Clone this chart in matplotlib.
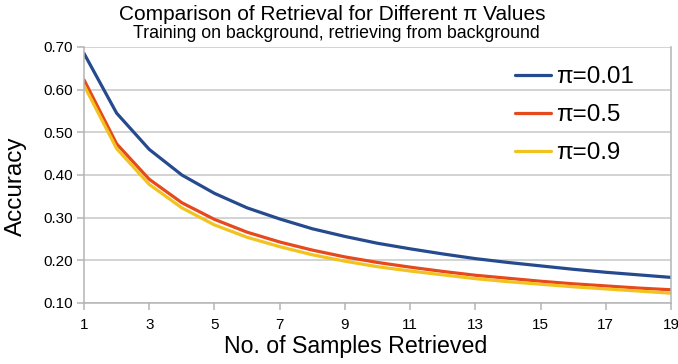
import matplotlib
matplotlib.use("Agg")
import matplotlib.pyplot as plt

plt.rcParams["font.family"] = ["Liberation Sans", "DejaVu Sans"]

samples = list(range(1, 20))
acc_001 = [0.685, 0.545, 0.460, 0.400, 0.357, 0.323, 0.297, 0.274, 0.256, 0.240,
           0.227, 0.215, 0.204, 0.195, 0.187, 0.179, 0.172, 0.166, 0.160]
acc_05 = [0.623, 0.473, 0.390, 0.335, 0.296, 0.266, 0.243, 0.224, 0.208, 0.195,
          0.184, 0.174, 0.165, 0.158, 0.151, 0.145, 0.140, 0.135, 0.131]
acc_09 = [0.610, 0.462, 0.378, 0.323, 0.283, 0.254, 0.232, 0.213, 0.198, 0.185,
          0.175, 0.166, 0.157, 0.150, 0.144, 0.138, 0.133, 0.128, 0.123]
labels = ["π=0.01", "π=0.5", "π=0.9"]
colors = ["#264a8e", "#e64a1c", "#f2c21e"]

fig = plt.figure(figsize=(6.78, 3.64), dpi=100)
ax = fig.add_axes([0.1239, 0.1676, 0.8658, 0.7033])

for ys, lab, col in zip([acc_001, acc_05, acc_09], labels, colors):
    ax.plot(samples, ys, color=col, lw=2.3, label=lab, solid_capstyle="round")

ax.set_xlim(1, 19)
ax.set_ylim(0.10, 0.70)
ax.set_xticks(range(1, 20, 2))
ax.set_yticks([0.1, 0.2, 0.3, 0.4, 0.5, 0.6, 0.7])
ax.set_yticklabels([f"{v:.2f}" for v in ax.get_yticks()])
ax.grid(axis="y", color="#c8c8c8", lw=1.1)
ax.set_axisbelow(True)
for s in ax.spines.values():
    s.set_color("#b4b4b4")
    s.set_linewidth(1.1)
ax.spines["top"].set_visible(False)
ax.tick_params(axis="both", labelsize=11, color="#b4b4b4", length=5, width=1.1)
ax.tick_params(axis="x", pad=6)
ax.tick_params(axis="y", pad=3)

ax.set_xlabel("No. of Samples Retrieved", fontsize=16.7)
ax.xaxis.set_label_coords((356 - 84) / (671 - 84), -(347 - 303) / 256, transform=ax.transAxes)
ax.xaxis.label.set_va("center")
ax.set_ylabel("Accuracy", fontsize=17.5)
ax.yaxis.set_label_coords(-(84 - 16) / 587, (303 - 186) / 256, transform=ax.transAxes)
ax.yaxis.label.set_va("center")

fig.text(332 / 678, 1 - 14 / 364, "Comparison of Retrieval for Different π Values",
         ha="center", va="center", fontsize=15)
fig.text(336 / 678, 1 - 34 / 364, "Training on background, retrieving from background",
         ha="center", va="center", fontsize=12.8)

leg = ax.legend(loc="upper right", bbox_to_anchor=(0.953, 0.962), frameon=False,
                fontsize=17.4, handlelength=1.5, labelspacing=0.66,
                handletextpad=0.2, borderaxespad=0.0)

fig.savefig("out.png", dpi=100)
